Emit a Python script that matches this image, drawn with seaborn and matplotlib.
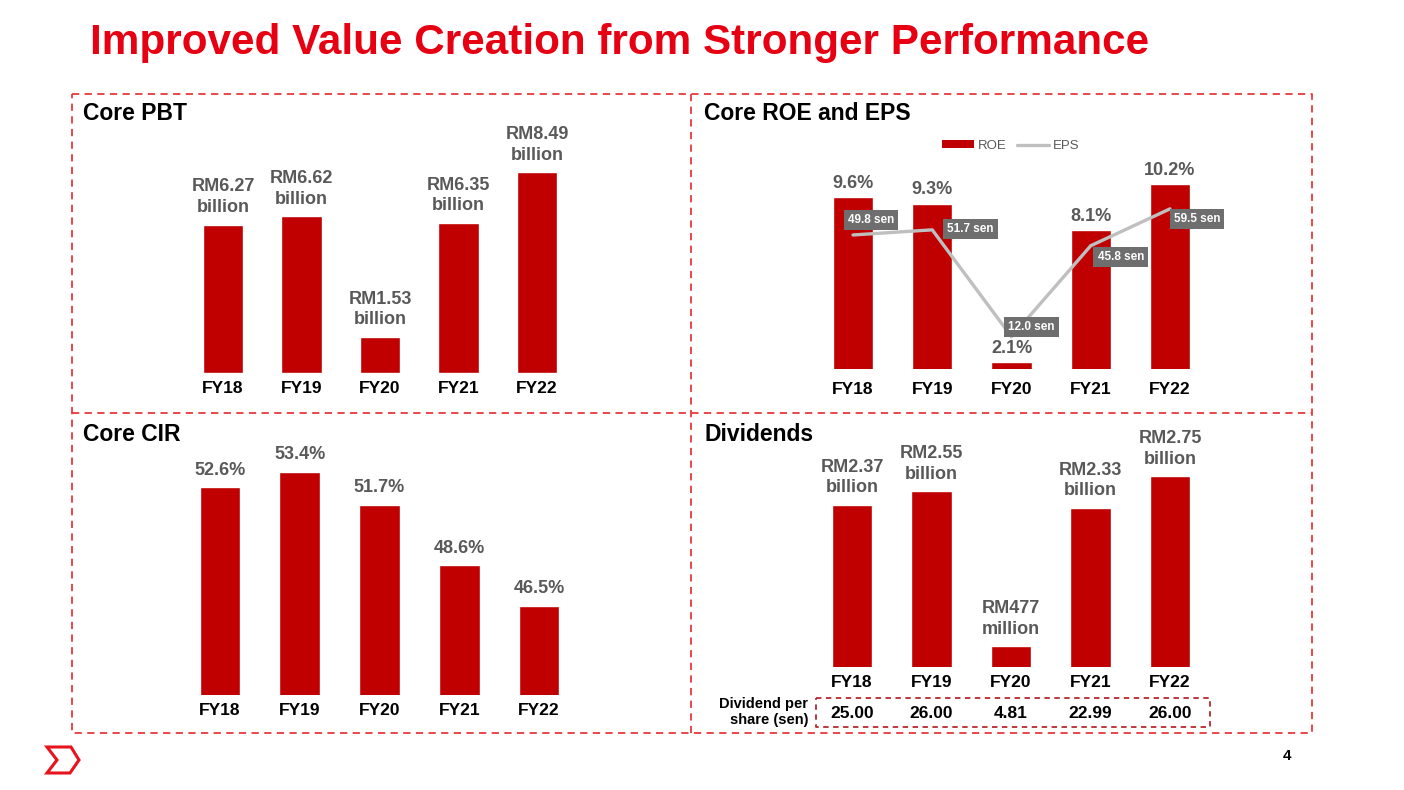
import numpy as np
import pandas as pd
import matplotlib
matplotlib.use("Agg")
import matplotlib.pyplot as plt
from matplotlib.lines import Line2D
from matplotlib.patches import Patch, Rectangle, Polygon
import seaborn as sns

# ---------------- data ----------------
years = ["FY18", "FY19", "FY20", "FY21", "FY22"]
pbt_values = [6.27, 6.62, 1.53, 6.35, 8.49]
pbt_labels = ["RM6.27\nbillion", "RM6.62\nbillion", "RM1.53\nbillion", "RM6.35\nbillion", "RM8.49\nbillion"]
roe_values = [9.6, 9.3, 2.1, 8.1, 10.2]
roe_labels = ["9.6%", "9.3%", "2.1%", "8.1%", "10.2%"]
eps_values = [49.8, 51.7, 12.0, 45.8, 59.5]
eps_labels = ["49.8 sen", "51.7 sen", "12.0 sen", "45.8 sen", "59.5 sen"]
cir_values = [52.6, 53.4, 51.7, 48.6, 46.5]
cir_labels = ["52.6%", "53.4%", "51.7%", "48.6%", "46.5%"]
div_values = [2.37, 2.55, 0.477, 2.33, 2.75]
div_labels = ["RM2.37\nbillion", "RM2.55\nbillion", "RM477\nmillion", "RM2.33\nbillion", "RM2.75\nbillion"]
dps_values = ["25.00", "26.00", "4.81", "22.99", "26.00"]

# ---------------- style ----------------
sns.set_theme(style="white")
plt.rcParams["font.family"] = ["Liberation Sans", "DejaVu Sans"]

W, H = 1404, 790
fig = plt.figure(figsize=(W / 100, H / 100), dpi=100)
fig.patch.set_facecolor("white")

RED_BAR = "#C00000"
GRAY_TXT = "#595959"
FRAME_RED = "#E8383D"


def rect(l, t, r, b):
    return [l / W, 1 - b / H, (r - l) / W, (b - t) / H]


def ftext(x, y, s, **kw):
    fig.text(x / W, 1 - y / H, s, **kw)


# overlay for decorations
ov = fig.add_axes([0, 0, 1, 1], zorder=0)
ov.set_xlim(0, W)
ov.set_ylim(H, 0)
ov.axis("off")

dash = dict(color=FRAME_RED, lw=1.3, linestyle=(0, (4, 3)))
ov.plot([72, 1312, 1312, 72, 72], [94, 94, 733, 733, 94], **dash)
ov.plot([691, 691], [94, 733], **dash)
ov.plot([72, 1312], [413, 413], **dash)
ov.plot([816, 1210, 1210, 816, 816], [698, 698, 727, 727, 698],
        color="#B8282E", lw=1.3, linestyle=(0, (3, 2.5)))
# logo chevron
ov.add_patch(Polygon([[47, 747], [71, 747], [79, 760], [70, 773], [47, 773], [57, 760]],
                     closed=True, fill=False, edgecolor="#E8141B", lw=2.2, joinstyle="miter"))

# titles
ftext(90, 43, "Improved Value Creation from Stronger Performance", color="#E60012",
      fontsize=30.4, fontweight="bold", ha="left", va="center")
ftext(83, 114, "Core PBT", fontsize=16.5, fontweight="bold", color="black", ha="left", va="center")
ftext(704, 114, "Core ROE and EPS", fontsize=16.5, fontweight="bold", color="black", ha="left", va="center")
ftext(83, 434, "Core CIR", fontsize=16.5, fontweight="bold", color="black", ha="left", va="center")
ftext(704, 434, "Dividends", fontsize=16.5, fontweight="bold", color="black", ha="left", va="center")
ftext(1287, 756, "4", fontsize=11, fontweight="bold", color="black", ha="center", va="center")


def style_ax(ax, pad):
    for s in ax.spines.values():
        s.set_visible(False)
    ax.patch.set_alpha(0)
    ax.set_yticks([])
    ax.set_xlabel("")
    ax.set_ylabel("")
    ax.tick_params(axis="x", length=0, pad=pad, labelsize=12.5, labelcolor="black")
    for t in ax.get_xticklabels():
        t.set_fontweight("bold")


def bar_panel(r, values, ylim, xlim):
    ax = fig.add_axes(r, zorder=2)
    df = pd.DataFrame({"year": years, "v": values})
    sns.barplot(data=df, x="year", y="v", color=RED_BAR, saturation=1, width=0.51, ax=ax)
    ax.set_ylim(*ylim)
    ax.set_xlim(*xlim)
    return ax


# ---- Core PBT ----
ax1 = bar_panel(rect(160.2, 130, 599.8, 373), pbt_values, (0, 10.27), (-0.8, 4.8))
style_ax(ax1, 6)
for i, (v, lab) in enumerate(zip(pbt_values, pbt_labels)):
    ax1.annotate(lab, (i, v), xytext=(0, 6), textcoords="offset points", ha="center", va="bottom",
                 fontsize=13, fontweight="bold", color=GRAY_TXT, linespacing=1.3)

# ---- Core ROE and EPS ----
ax2 = bar_panel(rect(789.6, 130, 1233.4, 369), roe_values, (1.8, 12.66), (-0.8, 4.8))
style_ax(ax2, 9)
for i, (v, lab) in enumerate(zip(roe_values, roe_labels)):
    ax2.annotate(lab, (i, v), xytext=(0, 4), textcoords="offset points", ha="center", va="bottom",
                 fontsize=13, fontweight="bold", color=GRAY_TXT)

ax2b = ax2.twinx()
ax2b.set_zorder(3)
sns.lineplot(x=np.arange(len(years)), y=eps_values, color="#BFBFBF", lw=2.4, ax=ax2b, legend=False)
ax2b.set_ylim(0, 88.8)
ax2b.set_xlim(-0.8, 4.8)
for s in ax2b.spines.values():
    s.set_visible(False)
ax2b.set_yticks([])
ax2b.patch.set_alpha(0)
ax2.set_xticks(range(len(years)))
ax2.set_xticklabels(years, fontsize=12.5, fontweight="bold")
eps_offsets = [(18, 15), (38, 1), (20, 10), (30, -11), (27, -10)]
for i, (v, lab, off) in enumerate(zip(eps_values, eps_labels, eps_offsets)):
    ax2b.annotate(lab, (i, v), xytext=off, textcoords="offset pixels", ha="center", va="center",
                  fontsize=8.5, fontweight="bold", color="white",
                  bbox=dict(boxstyle="square,pad=0.35", fc="#6E6E6E", ec="none"))

leg_handles = [Patch(facecolor=RED_BAR, edgecolor="none", label="ROE"),
               Line2D([0], [0], color="#BFBFBF", lw=2.4, label="EPS")]
leg = ax2b.legend(handles=leg_handles, loc="center", bbox_to_anchor=(1011 / W, 1 - 146 / H),
                  bbox_transform=fig.transFigure, ncol=2, frameon=False, fontsize=9.5,
                  handlelength=2.4, handleheight=0.55, columnspacing=0.8, handletextpad=0.3)
for t in leg.get_texts():
    t.set_color(GRAY_TXT)

# ---- Core CIR ----
ax3 = bar_panel(rect(156.2, 440, 602.8, 695), cir_values, (41.9, 55.04), (-0.8, 4.8))
style_ax(ax3, 6)
for i, (v, lab) in enumerate(zip(cir_values, cir_labels)):
    ax3.annotate(lab, (i, v), xytext=(0, 6), textcoords="offset points", ha="center", va="bottom",
                 fontsize=13, fontweight="bold", color=GRAY_TXT)

# ---- Dividends ----
ax4 = bar_panel(rect(788.4, 430, 1233.6, 667), div_values, (0.2, 3.37), (-0.8, 4.8))
style_ax(ax4, 6)
for i, (v, lab) in enumerate(zip(div_values, div_labels)):
    ax4.annotate(lab, (i, v), xytext=(0, 6), textcoords="offset points", ha="center", va="bottom",
                 fontsize=13, fontweight="bold", color=GRAY_TXT, linespacing=1.3)
for i, lab in enumerate(dps_values):
    ax4.annotate(lab, xy=(i, H - 713), xycoords=("data", "figure pixels"), ha="center", va="center",
                 fontsize=12.5, fontweight="bold", color="black")
ftext(808, 712, "Dividend per\nshare (sen)", fontsize=10.5, fontweight="bold", color="black",
      ha="right", va="center", linespacing=1.2)

fig.savefig("out.png", dpi=100)
